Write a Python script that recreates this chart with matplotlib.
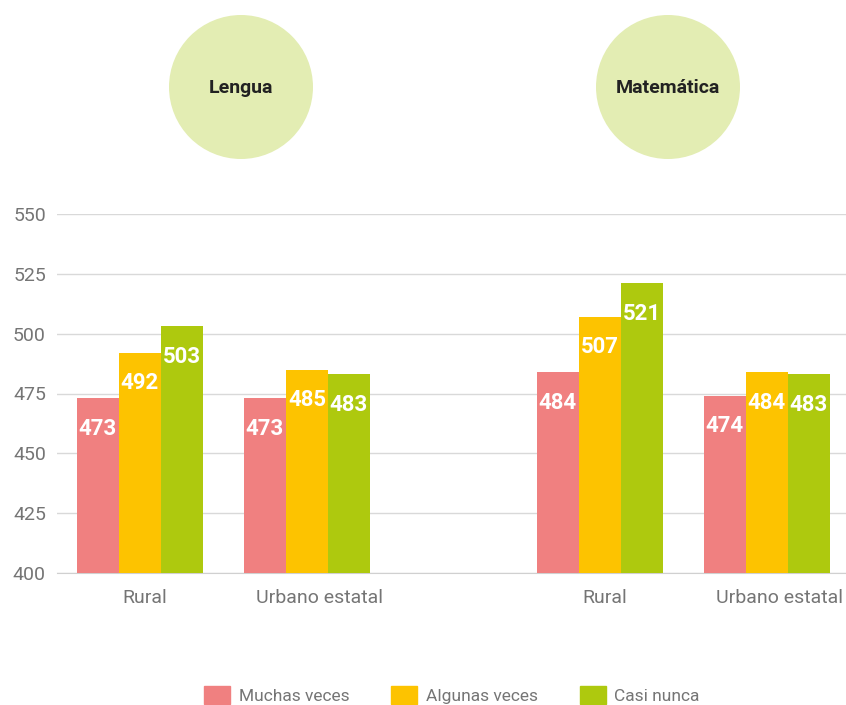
import numpy as np
import matplotlib
matplotlib.use('Agg')
from matplotlib import pyplot as plt
from matplotlib.patches import Circle

categories = ['Rural', 'Urbano estatal', 'Rural', 'Urbano estatal']
series_names = ['Muchas veces', 'Algunas veces', 'Casi nunca']
muchas = [473, 473, 484, 474]
algunas = [492, 485, 507, 484]
casi = [503, 483, 521, 483]
subjects = ['Lengua', 'Matemática']

colors = ['#F08080', '#FDC300', '#AEC90E']
circle_color = '#E3EDB3'

plt.rcParams['font.family'] = ['Roboto', 'DejaVu Sans']

W, H = 846, 705
fig = plt.figure(figsize=(W / 100, H / 100), dpi=100)

# main axes, placed in pixel terms
left, right, top, bottom = 57, 846, 214, 573
ax = fig.add_axes([left / W, 1 - bottom / H, (right - left) / W, (bottom - top) / H])

pos = np.array([0, 1, 2.754, 3.754])
width = 0.2515
offsets = [-width, 0, width]

for vals, off, col in zip([muchas, algunas, casi], offsets, colors):
    bars = ax.bar(pos + off, vals, width, color=col, zorder=3)
    for b, v in zip(bars, vals):
        ax.annotate(str(v), (b.get_x() + b.get_width() / 2, v),
                    xytext=(0, -22), textcoords='offset points',
                    ha='center', va='center', color='white',
                    fontsize=16, fontweight='bold', zorder=4)

ax.set_ylim(400, 550)
ax.set_xlim(-0.497, 4.228)
ax.set_yticks(np.arange(400, 551, 25))
ax.set_xticks(pos)
ax.set_xticklabels([])
ax.yaxis.grid(True, color='#D9D9D9', linewidth=1, zorder=0)
for s in ['top', 'right', 'left']:
    ax.spines[s].set_visible(False)
ax.spines['bottom'].set_color('#D0D0D0')
ax.tick_params(axis='both', length=0, labelsize=14, colors='#757575')
ax.tick_params(axis='y', pad=8)

# category labels sit a little right of the group centre in the original
for p, cat in zip(pos, categories):
    shift_px = 0.9 * len(cat)
    ax.annotate(cat, (p, 0), xycoords=('data', 'axes fraction'),
                xytext=(shift_px * 0.72, -18), textcoords='offset points',
                ha='center', va='center', fontsize=14, color='#757575')

# circles with subject names
over = fig.add_axes([0, 0, 1, 1], facecolor='none')
over.set_xlim(0, W)
over.set_ylim(H, 0)
over.axis('off')
for name, cx in zip(subjects, [241, 668]):
    over.add_patch(Circle((cx, 87), 72, color=circle_color, lw=0))
    over.text(cx, 88, name, ha='center', va='center', fontsize=14,
              fontweight='bold', color='#222222')

handles = [plt.Rectangle((0, 0), 1, 1, color=c) for c in colors]
leg = fig.legend(handles, series_names, loc='center', ncol=3,
                 bbox_to_anchor=(452 / W, 1 - 695 / H), frameon=False,
                 fontsize=12.5, handlelength=1.5, handleheight=1.3,
                 handletextpad=0.5, columnspacing=2.4)
for t in leg.get_texts():
    t.set_color('#757575')

fig.savefig('out.png', dpi=100)
